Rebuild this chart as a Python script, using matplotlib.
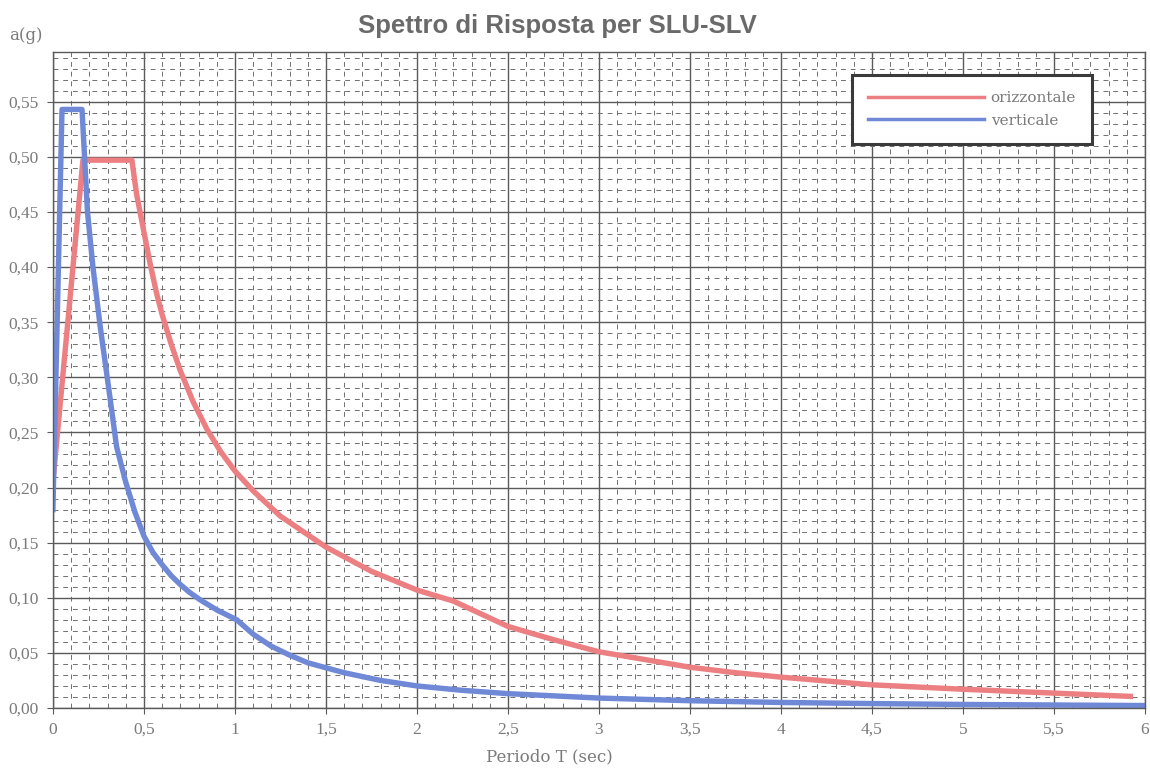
import matplotlib
matplotlib.use('Agg')
import matplotlib.pyplot as plt
from matplotlib.ticker import MultipleLocator, FuncFormatter

# spettro orizzontale
t_oriz = [0, 0.165, 0.434, 0.46, 0.5, 0.533, 0.57, 0.6, 0.65, 0.7, 0.77, 0.846, 0.92,
          1.0, 1.1, 1.25, 1.5, 1.75, 2.0, 2.2, 2.5, 2.75, 3.0, 3.25, 3.5, 3.75, 4.0,
          4.5, 5.0, 5.5, 5.92]
sa_oriz = [0.205, 0.497, 0.497, 0.466, 0.432, 0.404, 0.376, 0.357, 0.330, 0.306,
           0.278, 0.253, 0.233, 0.215, 0.197, 0.174, 0.146, 0.124, 0.107, 0.097,
           0.074, 0.062, 0.051, 0.044, 0.037, 0.032, 0.028, 0.021, 0.017, 0.0135,
           0.0105]

# spettro verticale
t_vert = [0, 0.05, 0.16, 0.19, 0.22, 0.26, 0.31, 0.35, 0.4, 0.45, 0.5, 0.55, 0.6,
          0.65, 0.7, 0.75, 0.81, 0.9, 1.01, 1.1, 1.2, 1.3, 1.4, 1.6, 1.8, 2.0, 2.25,
          2.5, 3.0, 3.5, 4.0, 4.5, 5.0, 5.5, 6.0]
sa_vert = [0.18, 0.543, 0.543, 0.45, 0.40, 0.346, 0.286, 0.237, 0.205, 0.178, 0.156,
           0.141, 0.130, 0.120, 0.112, 0.105, 0.098, 0.089, 0.080, 0.067, 0.056,
           0.048, 0.041, 0.032, 0.025, 0.020, 0.016, 0.013, 0.009, 0.0066, 0.005,
           0.004, 0.0032, 0.0027, 0.0022]

serif = ['DejaVu Serif']
grigio = '#7a7a7a'

fig = plt.figure(figsize=(11.5, 7.78), dpi=100)
ax = fig.add_axes([0.046, 0.090, 0.9496, 0.843])

ax.plot(t_oriz, sa_oriz, color='#ec7f82', lw=3.9, label='orizzontale',
        solid_joinstyle='round')
ax.plot(t_vert, sa_vert, color='#6f89d6', lw=3.9, label='verticale',
        solid_joinstyle='round')

ax.set_xlim(0, 6)
ax.set_ylim(0, 0.595)
ax.xaxis.set_major_locator(MultipleLocator(0.5))
ax.xaxis.set_minor_locator(MultipleLocator(0.1))
ax.yaxis.set_major_locator(MultipleLocator(0.05))
ax.yaxis.set_minor_locator(MultipleLocator(0.01))

ax.xaxis.set_major_formatter(FuncFormatter(lambda v, p: f'{v:g}'.replace('.', ',')))
ax.yaxis.set_major_formatter(FuncFormatter(lambda v, p: f'{v:.2f}'.replace('.', ',')))

ax.grid(which='major', color='#5a5a5a', lw=1.0, ls='-')
ax.grid(which='minor', color='#707070', lw=0.7, ls=(0, (5, 5)))
ax.set_axisbelow(True)

for s in ax.spines.values():
    s.set_color('#5a5a5a')
    s.set_linewidth(1.0)

ax.tick_params(which='major', length=4, color='#5a5a5a', labelcolor=grigio,
               labelsize=11, pad=6)
ax.tick_params(which='minor', length=0)
for lab in ax.get_xticklabels() + ax.get_yticklabels():
    lab.set_family(['Liberation Serif'])
    lab.set_fontsize(12.5)

leg = ax.legend(loc='upper right', bbox_to_anchor=(0.9515, 0.965), borderaxespad=0,
                frameon=True, fancybox=False, handlelength=7.6, handletextpad=0.4,
                borderpad=1.05, labelspacing=0.55,
                prop={'family': serif, 'size': 11})
leg.get_frame().set_edgecolor('#3a3a3a')
leg.get_frame().set_linewidth(2.2)
leg.get_frame().set_alpha(1)
for t in leg.get_texts():
    t.set_color(grigio)
for h in leg.get_lines():
    h.set_linewidth(2.5)

fig.text(0.485, 0.966, 'Spettro di Risposta per SLU-SLV', ha='center', va='center',
         fontsize=18.5, fontweight='bold', color='#6a6a6a', family='Liberation Sans')
fig.text(0.008, 0.955, 'a(g)', ha='left', va='center', fontsize=12,
         color=grigio, family=serif)
fig.text(0.478, 0.016, 'Periodo T (sec)', ha='center', va='bottom', fontsize=12,
         color=grigio, family=serif)

fig.savefig('out.png', dpi=100, facecolor='white')
